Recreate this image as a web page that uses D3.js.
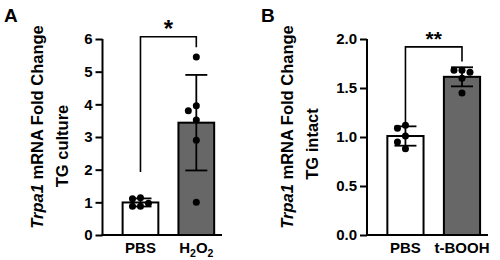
<!DOCTYPE html>
<html>
<head>
<meta charset="utf-8">
<script src="https://cdn.jsdelivr.net/npm/d3@7"></script>
<style>
  body { margin: 0; background: #fff; }
  svg text { font-family: "Liberation Sans", Arial, sans-serif; font-weight: bold; fill: #000; }
</style>
</head>
<body>
<div id="chart"></div>
<script>
// panel A - TG culture
var groupsA = ["PBS", "H2O2"];
var pbsA = [1.14, 1.11, 0.97, 0.88, 0.88];
var h2o2A = [5.45, 3.96, 3.80, 3.52, 2.9, 1.0];
var ticksA = [0, 1, 2, 3, 4, 5, 6];
var bracketA = [1.93, 6.07, 5.75];   // left leg end, top, right leg end
var starsA = "*";

// panel B - TG intact
var groupsB = ["PBS", "t-BOOH"];
var pbsB = [1.12, 1.09, 1.01, 0.95, 0.88];
var tboohB = [1.68, 1.68, 1.66, 1.60, 1.45];
var ticksB = [0, 0.5, 1.0, 1.5, 2.0];
var bracketB = [1.11, 1.92, 1.77];
var starsB = "**";

var svg = d3.select("#chart").append("svg")
    .attr("width", 500)
    .attr("height", 260);

var fills = ["#ffffff", "#676767"];
var r = 3.5;

// simple beeswarm so overlapping dots get pushed sideways
var swarm = function(vals, y, cx) {
  var placed = [];
  var sorted = vals.slice().sort(function(a, b) { return b - a; });
  var steps = [0, -8, 8, -16, 16];
  sorted.forEach(function(v) {
    var py = y(v);
    for (var i = 0; i < steps.length; i++) {
      var px = cx + steps[i];
      var hit = placed.some(function(p) {
        return Math.hypot(p[0] - px, p[1] - py) < 7.5;
      });
      if (!hit) { placed.push([px, py]); return; }
    }
    placed.push([cx, py]);
  });
  return placed;
};

var drawPanel = function(o) {
  var g = svg.append("g");

  var x = d3.scaleBand()
    .domain(o.groups)
    .range([o.x0, o.x1])
    .paddingInner(0.36)
    .paddingOuter(0.25)
    .align(0.72);

  var y = d3.scaleLinear()
    .domain([0, o.ticks[o.ticks.length - 1]])
    .range([235, 39]);

  // axes
  var yAxis = g.append("g")
    .attr("transform", "translate(" + o.x0 + ",0)")
    .call(d3.axisLeft(y).tickValues(o.ticks).tickSize(7).tickPadding(3)
      .tickFormat(o.fmt));
  yAxis.select(".domain").attr("stroke-width", 2).attr("d", "M0," + y.range()[1] + "V" + y.range()[0]);
  yAxis.selectAll(".tick line").attr("stroke-width", 2);
  yAxis.selectAll(".tick text").attr("font-size", 15);

  var series = [o.a, o.b];
  var stats = series.map(function(s) {
    return { mean: d3.mean(s), sd: d3.deviation(s) };
  });

  // bars
  g.selectAll("rect.bar")
    .data(o.groups)
    .enter().append("rect")
      .attr("class", "bar")
      .attr("x", function(d) { return x(d); })
      .attr("width", x.bandwidth())
      .attr("y", function(d, i) { return y(stats[i].mean); })
      .attr("height", function(d, i) { return y(0) - y(stats[i].mean); })
      .attr("fill", function(d, i) { return fills[i]; })
      .attr("stroke", "#000")
      .attr("stroke-width", 2);

  // x axis line on top of bar bottoms
  g.append("line")
    .attr("x1", o.x0 - 1).attr("x2", o.x1)
    .attr("y1", y(0)).attr("y2", y(0))
    .attr("stroke", "#000").attr("stroke-width", 2);

  // error bars (mean +/- SD)
  o.groups.forEach(function(d, i) {
    var cx = x(d) + x.bandwidth() / 2;
    var lo = y(stats[i].mean - stats[i].sd), hi = y(stats[i].mean + stats[i].sd);
    g.append("line")
      .attr("x1", cx).attr("x2", cx).attr("y1", lo).attr("y2", hi)
      .attr("stroke", "#000").attr("stroke-width", 1.8);
    [lo, hi].forEach(function(yy) {
      g.append("line")
        .attr("x1", cx - 11).attr("x2", cx + 11).attr("y1", yy).attr("y2", yy)
        .attr("stroke", "#000").attr("stroke-width", 1.8);
    });
  });

  // dots
  o.groups.forEach(function(d, i) {
    var cx = x(d) + x.bandwidth() / 2;
    g.selectAll(null)
      .data(swarm(series[i], y, cx))
      .enter().append("circle")
        .attr("cx", function(p) { return p[0]; })
        .attr("cy", function(p) { return p[1]; })
        .attr("r", r)
        .attr("fill", "#000");
  });

  // significance bracket
  var lx = x(o.groups[0]) + x.bandwidth() / 2;
  var rx = x(o.groups[1]) + x.bandwidth() / 2;
  g.append("path")
    .attr("d", "M" + lx + "," + y(o.bracket[0]) + "V" + y(o.bracket[1]) +
      "H" + rx + "V" + y(o.bracket[2]))
    .attr("fill", "none")
    .attr("stroke", "#000")
    .attr("stroke-width", 1.6);
  g.append("text")
    .attr("x", (lx + rx) / 2)
    .attr("y", o.starY)
    .attr("text-anchor", "middle")
    .attr("font-size", o.starSize)
    .text(o.stars);

  // category labels
  var lab = g.selectAll("text.cat")
    .data(o.groups)
    .enter().append("text")
      .attr("class", "cat")
      .attr("x", function(d) { return x(d) + x.bandwidth() / 2; })
      .attr("y", 253)
      .attr("text-anchor", "middle")
      .attr("font-size", 15);
  lab.each(function(d) {
    var t = d3.select(this);
    if (d == "H2O2") {
      t.append("tspan").text("H");
      t.append("tspan").attr("font-size", 10.5).attr("dy", 4).text("2");
      t.append("tspan").attr("dy", -4).text("O");
      t.append("tspan").attr("font-size", 10.5).attr("dy", 4).text("2");
    } else {
      t.text(d);
    }
  });

  // y title, two lines
  var title = g.append("text")
    .attr("transform", "translate(" + o.titleX + ",127) rotate(-90)")
    .attr("text-anchor", "middle")
    .attr("font-size", 16.5);
  title.append("tspan").attr("font-style", "italic").text("Trpa1");
  title.append("tspan").text(" mRNA Fold Change");
  g.append("text")
    .attr("transform", "translate(" + (o.titleX + 25) + "," + o.subY + ") rotate(-90)")
    .attr("text-anchor", "middle")
    .attr("font-size", 16.5)
    .text(o.subtitle);

  // panel letter
  g.append("text")
    .attr("x", o.letterX)
    .attr("y", 22)
    .attr("font-size", 19)
    .text(o.letter);
};

drawPanel({
  groups: groupsA, a: pbsA, b: h2o2A, ticks: ticksA, fmt: d3.format("d"),
  bracket: bracketA, stars: starsA, starY: 37, starSize: 24,
  x0: 102.5, x1: 222, titleX: 43, subtitle: "TG culture", subY: 146,
  letter: "A", letterX: 4
});

drawPanel({
  groups: groupsB, a: pbsB, b: tboohB, ticks: ticksB, fmt: d3.format(".1f"),
  bracket: bracketB, stars: starsB, starY: 46, starSize: 21,
  x0: 367, x1: 488, titleX: 293, subtitle: "TG intact", subY: 144,
  letter: "B", letterX: 261
});
</script>
</body>
</html>
